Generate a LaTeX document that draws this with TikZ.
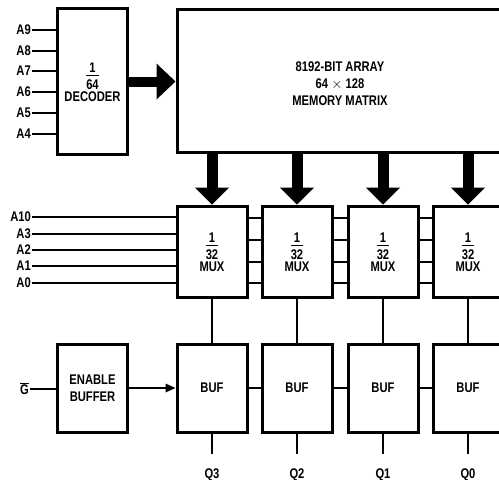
\documentclass[tikz,border=0pt]{standalone}
\usepackage{fontspec}
\setmainfont{Liberation Sans}[FakeStretch=0.8]
\usetikzlibrary{arrows.meta}
\setlength{\arrayrulewidth}{1.2pt}
\newcommand{\fr}[2]{\begin{tabular}{@{}c@{}}#1\\[-3pt]\hline\noalign{\vskip1pt}#2\end{tabular}}
\begin{document}
\begin{tikzpicture}[x=1pt,y=-1pt,
  font=\fontsize{14}{17}\selectfont\bfseries,
  box/.style={draw, line width=3pt, inner sep=0pt, align=center, minimum width=70pt},
  wire/.style={line width=2pt},
  fat/.style={line width=11pt, -{Triangle[width=34pt,length=17pt,line width=0pt]}},
  lbl/.style={inner sep=1pt}]
\clip (0,0) rectangle (499,480);
% decoder and memory
\node[box, minimum height=146pt] (dec) at (92.5,81.5) {\fr{1}{64}\\[-3pt]DECODER};
\node[box, minimum width=326pt, minimum height=143pt] (mem) at (340,80.5) {\rule{0pt}{16pt}8192-BIT ARRAY\\64 $\times$ 128\\MEMORY MATRIX};
\draw[line width=10pt, -{Triangle[width=36pt,length=19pt,line width=0pt]}] (dec.east) -- (dec.east -| mem.west);
\foreach \n/\y in {A9/30, A8/50.5, A7/71, A6/92, A5/113, A4/134} {
  \node[lbl, anchor=east] (in\n) at (32,\y) {\n};
  \draw[wire] (in\n.east) -- (in\n.east -| dec.west);
}
% rows
\coordinate (h1) at (0,218);
\coordinate (h2) at (0,240);
\coordinate (h3) at (0,262);
\coordinate (h4) at (0,283);
\foreach \i/\x/\q in {1/212/3, 2/297/2, 3/383/1, 4/468/0} {
  \node[box, minimum height=91pt] (mux\i) at (\x,251.5) {\fr{1}{32}\\[-3pt]MUX};
  \node[box, minimum height=88pt] (buf\i) at (\x,388) {BUF};
  \draw[fat] (mem.south -| mux\i) -- (mux\i.north);
  \draw[wire] (mux\i.south) -- (buf\i.north);
  \coordinate (o\i) at (\x,454);
  \draw[wire] (buf\i.south) -- (o\i);
  \node (q\i) at (\x,475) {Q\q};
}
\foreach \n/\y in {A10/217, A3/233.5, A2/249.5, A1/265.5, A0/283} {
  \node[lbl, anchor=east] (in\n) at (32,\y) {\n};
  \draw[wire] (in\n.east) -- (in\n.east -| mux1.west);
}
\foreach \i/\j in {1/2, 2/3, 3/4} {
  \foreach \k in {1,2,3,4} {
    \draw[wire] (mux\i.east |- h\k) -- (mux\j.west |- h\k);
  }
  \draw[wire] (buf\i.east) -- (buf\j.west);
}
% enable
\node[box, minimum height=88pt] (en) at (92.5,388) {ENABLE\\BUFFER};
\node[lbl, anchor=east] (g) at (30,389) {$\overline{\mbox{G}}$};
\draw[wire] (g.east) -- (g.east -| en.west);
\draw[wire, -{Triangle[length=10pt,width=9pt,line width=0pt]}] (en.east) -- (buf1.west);
\end{tikzpicture}
\end{document}
